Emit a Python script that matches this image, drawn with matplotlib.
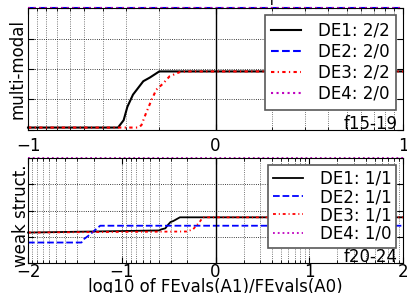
import numpy as np
import matplotlib
matplotlib.use("Agg")
import matplotlib.pyplot as plt
from matplotlib.ticker import FixedLocator, NullFormatter

# ECDF-style curves, x = log10 of FEvals(A1)/FEvals(A0)
# top panel: multi-modal, f15-19
top_de1_x = [-1, -0.52, -0.49, -0.47, -0.44, -0.42, -0.385, -0.35, -0.30, 1]
top_de1_y = [0.02, 0.02, 0.08, 0.19, 0.29, 0.33, 0.40, 0.43, 0.48, 0.48]
top_de2_x = [-1, 1]
top_de2_y = [1.0, 1.0]
top_de3_x = [-1, -0.41, -0.395, -0.37, -0.34, -0.316, -0.28, -0.245, -0.19, -0.156, 1]
top_de3_y = [0.02, 0.02, 0.04, 0.14, 0.25, 0.33, 0.38, 0.44, 0.475, 0.48, 0.48]
top_de4_x = [-1, 1]
top_de4_y = [1.0, 1.0]
top_labels = ["DE1: 2/2", "DE2: 2/0", "DE3: 2/2", "DE4: 2/0"]

# bottom panel: weak structure, f20-24
bot_de1_x = [-2, -0.60, -0.58, -0.535, -0.51, -0.48, -0.45, -0.38, 2]
bot_de1_y = [0.29, 0.31, 0.32, 0.33, 0.36, 0.39, 0.40, 0.435, 0.435]
bot_de2_x = [-2, -1.43, -1.40, -1.34, -1.29, -1.23, 2]
bot_de2_y = [0.195, 0.195, 0.23, 0.27, 0.31, 0.355, 0.355]
bot_de3_x = [-2, -0.31, -0.24, -0.20, -0.17, -0.135, 2]
bot_de3_y = [0.29, 0.30, 0.32, 0.36, 0.39, 0.435, 0.435]
bot_de4_x = [-2, 2]
bot_de4_y = [1.0, 1.0]
bot_labels = ["DE1: 1/1", "DE2: 1/1", "DE3: 1/1", "DE4: 1/0"]

styles = [dict(color="k", ls="-"), dict(color="b", ls="--"),
          dict(color="r", ls=(0, (1.6, 1.6, 0.6, 1.6))), dict(color="m", ls=":")]

fig = plt.figure(figsize=(4.07, 2.93), dpi=100)
W, H = 407.0, 293.0


def setup(ax, xmin, xmax, fname, ylabel, pad):
    ax.set_xlim(xmin, xmax)
    ax.set_ylim(0, 1)
    ax.set_xticks(range(xmin, xmax + 1))
    # grid at log10 of the ratios 1/k and k
    minors = []
    for m in range(0, max(-xmin, xmax)):
        for k in range(2, 10):
            v = np.log10(k * 10.0 ** m)
            if v < xmax:
                minors.append(v)
            if -v > xmin:
                minors.append(-v)
    ax.xaxis.set_minor_locator(FixedLocator(minors))
    ax.xaxis.set_minor_formatter(NullFormatter())
    ax.set_yticks([0, 0.25, 0.5, 0.75, 1.0])
    ax.set_yticklabels([])
    ax.tick_params(direction="in", top=True, right=True, length=4, labelsize=12, pad=pad)
    ax.tick_params(which="minor", direction="in", top=True, length=2)
    ax.grid(True, which="major", color="k", ls=":", lw=0.6)
    ax.grid(True, which="minor", axis="x", color="0.3", ls=":", lw=0.6)
    ax.axvline(0, color="k", lw=1)
    ax.text(0.985, 0.012, fname, transform=ax.transAxes, ha="right", va="baseline", fontsize=12)
    ax.set_ylabel(ylabel, fontsize=12)


def legend(ax, spacing, bpad):
    leg = ax.legend(loc="upper right", fontsize=12, labelspacing=spacing, borderpad=bpad,
                    handlelength=1.8, handletextpad=1.0, borderaxespad=0.4,
                    fancybox=False, framealpha=1)
    leg.get_frame().set_edgecolor("0.35")
    leg.get_frame().set_linewidth(1.2)


ax1 = fig.add_axes([28 / W, 1 - 130 / H, 375 / W, 122 / H])
for xs, ys, st, lab in zip([top_de1_x, top_de2_x, top_de3_x, top_de4_x],
                           [top_de1_y, top_de2_y, top_de3_y, top_de4_y],
                           styles, top_labels):
    ax1.plot(xs, ys, lw=1.5, label=lab, clip_on=False, **st)
setup(ax1, -1, 1, "f15-19", "multi-modal", 5)
ax1.yaxis.set_label_coords(-0.005, 0.5)
legend(ax1, 0.19, 0.4)

ax2 = fig.add_axes([28 / W, 1 - 263 / H, 375 / W, 105 / H])
for xs, ys, st, lab in zip([bot_de1_x, bot_de2_x, bot_de3_x, bot_de4_x],
                           [bot_de1_y, bot_de2_y, bot_de3_y, bot_de4_y],
                           styles, bot_labels):
    ax2.plot(xs, ys, lw=1.3, label=lab, clip_on=False, **st)
setup(ax2, -2, 2, "f20-24", "weak struct.", 0)
ax2.yaxis.set_label_coords(0.005, 0.45)
ax2.set_xlabel("log10 of FEvals(A1)/FEvals(A0)", fontsize=12)
ax2.xaxis.set_label_coords(0.5, -0.14)
legend(ax2, 0.02, 0.3)

# remnant of text cut off at the top edge
fig.text(272 / W, 1 - 5 / H, "|", fontsize=12, ha="center", va="bottom")

fig.savefig("out.png", dpi=100)
